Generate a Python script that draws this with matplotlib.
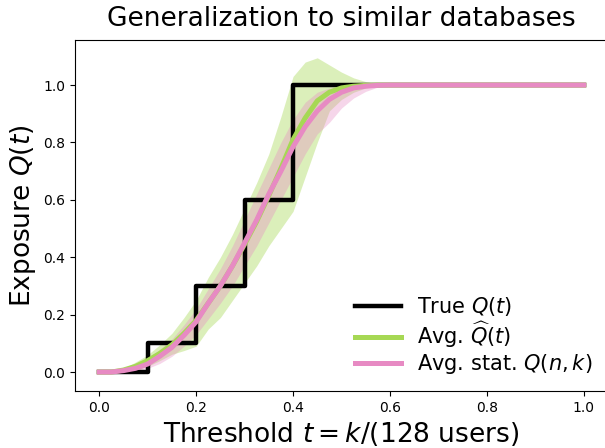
import numpy as np
import matplotlib.pyplot as plt

t = [0.0, 0.025, 0.05, 0.075, 0.1, 0.125, 0.15, 0.175, 0.2, 0.225, 0.25, 0.275,
     0.3, 0.325, 0.35, 0.375, 0.4, 0.425, 0.45, 0.475, 0.5, 0.525, 0.55, 0.575,
     0.6, 0.65, 0.7, 0.75, 0.8, 0.85, 0.9, 0.95, 1.0]

# true exposure (step function)
true_t = [0.0, 0.1, 0.2, 0.3, 0.4, 1.0]
true_q = [0.0, 0.1, 0.3, 0.6, 1.0, 1.0]

# average estimated Q-hat and its spread
qhat_mean = [0.0, 0.0, 0.007, 0.02, 0.04, 0.065, 0.095, 0.135, 0.18, 0.24, 0.30, 0.37,
             0.445, 0.525, 0.615, 0.71, 0.81, 0.885, 0.945, 0.975, 0.99, 0.996, 0.999, 1.0,
             1.0, 1.0, 1.0, 1.0, 1.0, 1.0, 1.0, 1.0, 1.0]
qhat_hi = [0.0, 0.0, 0.012, 0.035, 0.06, 0.095, 0.135, 0.19, 0.25, 0.33, 0.40, 0.48,
           0.57, 0.66, 0.76, 0.89, 1.03, 1.08, 1.095, 1.07, 1.045, 1.025, 1.012, 1.004,
           1.0, 1.0, 1.0, 1.0, 1.0, 1.0, 1.0, 1.0, 1.0]
qhat_lo = [0.0, 0.0, 0.0, 0.005, 0.02, 0.04, 0.062, 0.075, 0.09, 0.15, 0.19, 0.25,
           0.31, 0.37, 0.44, 0.50, 0.56, 0.68, 0.80, 0.91, 0.95, 0.975, 0.99, 0.997,
           1.0, 1.0, 1.0, 1.0, 1.0, 1.0, 1.0, 1.0, 1.0]

# average statistical Q(n,k) and its spread
qstat_mean = [0.0, 0.0, 0.005, 0.013, 0.028, 0.055, 0.086, 0.128, 0.175, 0.24, 0.30, 0.37,
              0.45, 0.53, 0.62, 0.70, 0.785, 0.855, 0.91, 0.95, 0.975, 0.99, 0.996, 0.999,
              1.0, 1.0, 1.0, 1.0, 1.0, 1.0, 1.0, 1.0, 1.0]
qstat_hi = [0.0, 0.001, 0.01, 0.025, 0.045, 0.08, 0.115, 0.165, 0.22, 0.29, 0.36, 0.44,
            0.53, 0.62, 0.71, 0.80, 0.88, 0.94, 0.975, 0.99, 0.997, 1.0, 1.0, 1.0,
            1.0, 1.0, 1.0, 1.0, 1.0, 1.0, 1.0, 1.0, 1.0]
qstat_lo = [0.0, 0.0, 0.0, 0.004, 0.013, 0.03, 0.055, 0.09, 0.13, 0.185, 0.24, 0.30,
            0.37, 0.44, 0.52, 0.60, 0.68, 0.76, 0.83, 0.87, 0.92, 0.955, 0.978, 0.993,
            1.0, 1.0, 1.0, 1.0, 1.0, 1.0, 1.0, 1.0, 1.0]

green = '#a6d854'
pink = '#e78ac3'

fig = plt.figure(figsize=(6.05, 4.48), dpi=100)
ax = fig.add_axes([75/605, 57/448, 533/605, 351/448])

ax.fill_between(t, qhat_lo, qhat_hi, color=green, alpha=0.4, lw=0)
ax.fill_between(t, qstat_lo, qstat_hi, color=pink, alpha=0.35, lw=0)
ax.plot(true_t, true_q, drawstyle='steps-post', color='black', lw=3.2, label='True $Q(t)$')
ax.plot(t, qhat_mean, color=green, lw=3.6, label=r'Avg. $\widehat{Q}(t)$')
ax.plot(t, qstat_mean, color=pink, lw=3.6, label='Avg. stat. $Q(n,k)$')

ax.set_xlim(-0.05, 1.05)
ax.set_ylim(-0.066, 1.157)
ax.set_xticks([0.0, 0.2, 0.4, 0.6, 0.8, 1.0])
ax.set_yticks([0.0, 0.2, 0.4, 0.6, 0.8, 1.0])
ax.tick_params(labelsize=10)

ax.set_title('Generalization to similar databases', fontsize=19, pad=10)
ax.set_xlabel('Threshold $t = k/(128$ users$)$', fontsize=19)
ax.set_ylabel('Exposure $Q(t)$', fontsize=19)

ax.legend(loc='lower left', bbox_to_anchor=(0.491, -0.012), frameon=False, fontsize=15,
          handlelength=2.2, handletextpad=0.75, labelspacing=0.1)

fig.savefig('out.png', dpi=100)
